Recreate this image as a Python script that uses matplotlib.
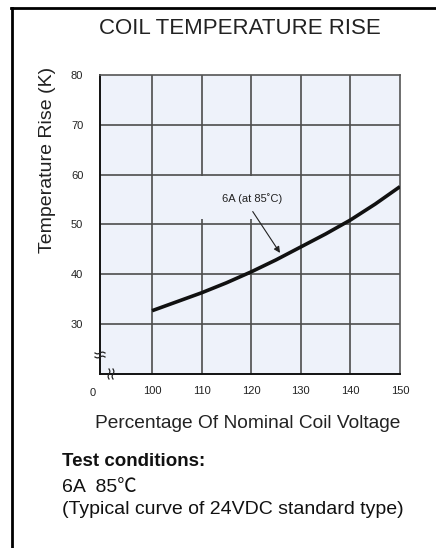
import numpy as np
import matplotlib.pyplot as plt
from matplotlib.lines import Line2D
from matplotlib.patches import Rectangle

plt.rcParams['font.family'] = ['Liberation Sans', 'DejaVu Sans']

# coil temperature rise vs. % of nominal coil voltage (6A, 85C)
volt_pct = [100, 105, 110, 115, 120, 125, 130, 135, 140, 145, 150]
temp_rise = [32.7, 34.5, 36.3, 38.3, 40.5, 42.9, 45.5, 48.1, 50.9, 54.1, 57.6]

x_ticks = [100, 110, 120, 130, 140, 150]
y_ticks = [30, 40, 50, 60, 70, 80]

bg = '#eef2fa'
grid_c = '#4d4d4d'
txt_c = '#222222'

fig = plt.figure(figsize=(4.36, 5.48), dpi=100)
ax = fig.add_axes([100 / 436, 1 - 374 / 548, 300 / 436, 299 / 548])
ax.set_facecolor(bg)
ax.set_xlim(89.5, 150)
ax.set_ylim(20, 80)

for x in x_ticks[:-1]:
    ax.axvline(x, color=grid_c, lw=1.2, zorder=1)
for y in y_ticks[:-1]:
    ax.axhline(y, color=grid_c, lw=1.2, zorder=1)

# blank patch behind the curve label
ax.add_patch(Rectangle((108.7, 51.1), 19.1, 8.7, facecolor=bg, edgecolor='none', zorder=2))

ax.plot(volt_pct, temp_rise, color='#111111', lw=2.6, zorder=4, solid_capstyle='butt')

ax.text(120.2, 55.3, '6A (at 85˚C)', ha='center', va='center', fontsize=8, color=txt_c, zorder=5)
ax.annotate('', xy=(125.8, 44.3), xytext=(120.3, 52.6),
            arrowprops=dict(arrowstyle='-|>', lw=0.8, color=txt_c, mutation_scale=9, shrinkA=0, shrinkB=0),
            zorder=5)

ax.set_xticks(x_ticks)
ax.set_xticklabels([str(v) for v in x_ticks])
ax.set_yticks(y_ticks)
ax.set_yticklabels([str(v) for v in y_ticks])
ax.tick_params(length=0, labelsize=8, colors=txt_c)
ax.tick_params(axis='x', pad=9)
ax.tick_params(axis='y', pad=12)
ax.text(88.1, 17.1, '0', ha='center', va='top', fontsize=8, color=txt_c, clip_on=False)

for side in ['left', 'bottom']:
    ax.spines[side].set_color('#111111')
    ax.spines[side].set_linewidth(1.4)
for side in ['top', 'right']:
    ax.spines[side].set_color('#555555')
    ax.spines[side].set_linewidth(1.2)

# axis break marks: two small wavy strokes across each spine
t = np.linspace(-1, 1, 30)
wave = 0.35 * np.sin(np.pi * t)
px_w, px_h = 300.0, 299.0
for off in (-2, 2):
    # left spine
    ax.plot((t * 5) / px_w, (19 + off + wave * 2.5) / px_h, color=txt_c, lw=0.9,
            transform=ax.transAxes, clip_on=False, zorder=6)
    # bottom spine
    ax.plot((11 + off + wave * 2.5) / px_w, (t * 5) / px_h, color=txt_c, lw=0.9,
            transform=ax.transAxes, clip_on=False, zorder=6)

fig.text(240 / 436, 1 - 28 / 548, 'COIL TEMPERATURE RISE', ha='center', va='center', fontsize=16, color=txt_c)
fig.text(47 / 436, 1 - 160 / 548, 'Temperature Rise (K)', ha='center', va='center', rotation=90,
         fontsize=14, color=txt_c)
fig.text(248 / 436, 1 - 424 / 548, 'Percentage Of Nominal Coil Voltage', ha='center', va='center',
         fontsize=13.8, color=txt_c)
fig.text(62 / 436, 1 - 462 / 548, 'Test conditions:', ha='left', va='center', fontsize=13.5,
         fontweight='bold', color='#111111')
fig.text(62 / 436, 1 - 487 / 548, '6A  85℃', ha='left', va='center', fontsize=14, color='#111111',
         family=['Liberation Sans', 'Noto Sans CJK SC'])
fig.text(62 / 436, 1 - 510 / 548, '(Typical curve of 24VDC standard type)', ha='left', va='center',
         fontsize=14, color='#111111')

# frame lines
fig.add_artist(Line2D([12 / 436, 12 / 436], [0, 1 - 8 / 548], color='black', lw=2))
fig.add_artist(Line2D([11.3 / 436, 1], [1 - 8 / 548, 1 - 8 / 548], color='black', lw=2))

fig.savefig('out.png', dpi=100)
